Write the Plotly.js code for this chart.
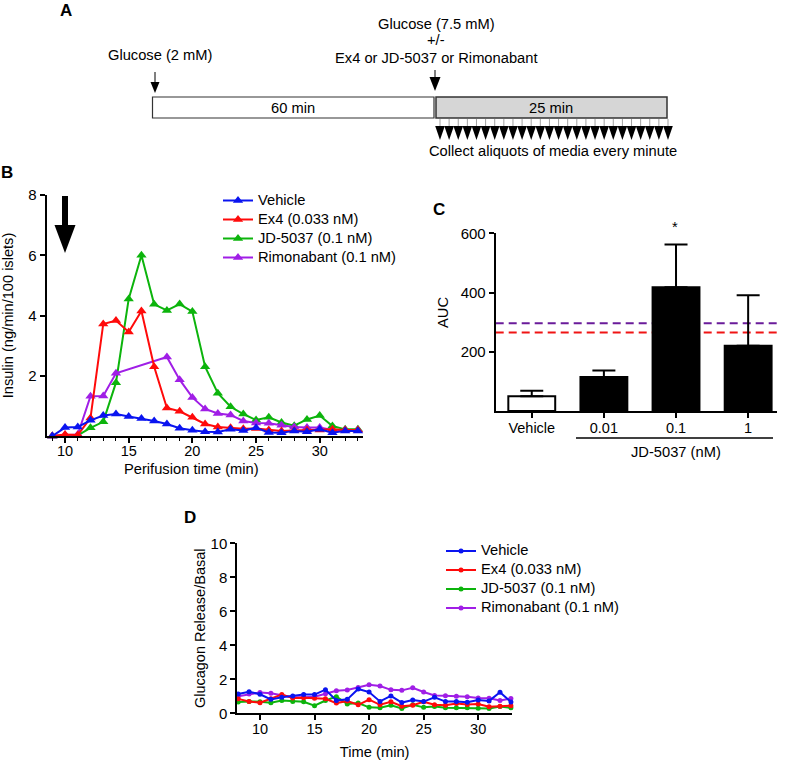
<!DOCTYPE html>
<html><head><meta charset="utf-8">
<script src="https://cdn.plot.ly/plotly-3.0.1.min.js"></script>
<style>html,body{margin:0;padding:0;background:#fff}#c{width:787px;height:761px}</style>
</head><body><div id="c"></div>
<script>
const seriesNames = ['Vehicle','Ex4 (0.033 nM)','JD-5037 (0.1 nM)','Rimonabant (0.1 nM)'];
const colors = {veh:'#0a14f0', ex4:'#ff0a0a', jd:'#0cb40c', rim:'#a01ee6'};

const insulinTime = [9,10,11,12,13,14,15,16,17,18,19,20,21,22,23,24,25,26,27,28,29,30,31,32,33];
const insulinVehicle = [0,.28,.3,.52,.68,.73,.65,.58,.5,.4,.26,.19,.14,.13,.22,.18,.27,.12,.11,.17,.14,.22,.11,.17,.17];
const insulinEx4 = [0,.05,.03,.6,3.72,3.83,3.45,4.15,2.3,.93,.82,.62,.4,.3,.27,.24,.25,.2,.17,.18,.2,.2,.22,.2,.2];
const insulinJD = [0,.02,.02,.27,.47,1.77,4.55,6.0,4.37,4.17,4.38,4.13,2.3,1.42,.97,.73,.53,.62,.45,.34,.55,.68,.33,.22,.22];
const rimTime = [9,10,11,12,13,14,18,19,20,21,22,23,24,25,26,27,28,29,30,31,32,33];
const insulinRim = [0,.03,.05,1.32,1.33,2.08,2.62,1.87,1.28,.9,.75,.7,.5,.43,.42,.36,.3,.28,.28,.2,.2,.2];

const aucCategories = ['Vehicle','0.01','0.1','1'];
const aucValues = [50,115,418,220];
const aucErrors = [18,22,144,171];
const aucFill = ['#ffffff','#000000','#000000','#000000'];
const aucRefRim = 296, aucRefEx4 = 265;

const glucagonTime = [8,9,10,11,12,13,14,15,16,17,18,19,20,21,22,23,24,25,26,27,28,29,30,31,32,33];
const glucagonVehicle = [1.13,1.27,1.12,.82,.95,1.02,1.1,1.1,1.39,.75,.82,1.43,1.25,.7,1.02,.63,.78,.69,.94,.69,.7,.65,.78,.73,1.24,.67];
const glucagonEx4 = [.85,.7,.62,.85,1.1,.9,.92,.88,.85,.6,.72,.5,.8,.5,.68,.42,.47,.68,.5,.48,.58,.52,.55,.38,.42,.45];
const glucagonJD = [.66,.7,.68,.62,.75,.7,.68,.45,.75,.98,.55,.6,.35,.33,.47,.28,.5,.35,.4,.33,.32,.32,.3,.28,.4,.32];
const glucagonRim = [1.0,1.13,1.22,1.18,1.05,.95,.95,.98,1.15,1.33,1.37,1.52,1.68,1.6,1.38,1.35,1.5,1.25,1.05,1.03,1.0,.98,.9,.88,.75,.87];

const W=787,H=761;
const fx=p=>p/W, fy=p=>1-p/H;
const FONT='"Liberation Sans", Arial, sans-serif';
const TXT=14.7;
const legName=i=>`<span style="font-size:${TXT}px">${seriesNames[i]}</span>`;

function line(name,x,y,color,xa,ya,sym,size,leg,rank){
  return {type:'scatter',mode:'lines+markers',name,x,y,xaxis:xa,yaxis:ya,cliponaxis:false,
    line:{color,width:2},marker:{color,size,symbol:sym},legend:leg,legendrank:rank};
}
const traces=[
  line(legName(2),insulinTime,insulinJD,colors.jd,'x','y','triangle-up',9,'legend',3),
  line(legName(3),rimTime,insulinRim,colors.rim,'x','y','triangle-up',9,'legend',4),
  line(legName(1),insulinTime,insulinEx4,colors.ex4,'x','y','triangle-up',9,'legend',2),
  line(legName(0),insulinTime,insulinVehicle,colors.veh,'x','y','triangle-up',9,'legend',1),
  {type:'bar',x:aucCategories,y:aucValues,xaxis:'x2',yaxis:'y2',width:0.65,showlegend:false,cliponaxis:false,
    marker:{color:aucFill,line:{color:'#000',width:2}},
    error_y:{type:'data',array:aucErrors,symmetric:false,arrayminus:[0,0,0,0],color:'#000',thickness:2,width:11.5}},
  line(legName(3),glucagonTime,glucagonRim,colors.rim,'x3','y3','circle',5,'legend2',4),
  line(legName(2),glucagonTime,glucagonJD,colors.jd,'x3','y3','circle',5,'legend2',3),
  line(legName(1),glucagonTime,glucagonEx4,colors.ex4,'x3','y3','circle',5,'legend2',2),
  line(legName(0),glucagonTime,glucagonVehicle,colors.veh,'x3','y3','circle',5,'legend2',1)
];

const axisBase={showgrid:false,zeroline:false,showline:true,linecolor:'#000',linewidth:2,ticks:'outside',
  tickcolor:'#000',tickwidth:2,ticklen:5,color:'#000'};

function txt(t,x,y,size,extra){
  return Object.assign({text:t,xref:'paper',yref:'paper',x:fx(x),y:fy(y),xanchor:'center',yanchor:'middle',
    showarrow:false,font:{family:FONT,size:size,color:'#000'}},extra||{});
}
const annotations=[
  txt('<b>A</b>',66,11,17),txt('<b>B</b>',7,172,17),txt('<b>C</b>',439,209,17),txt('<b>D</b>',190,517,17),
  txt('Glucose (2 mM)',160,55,TXT),
  txt('Glucose (7.5 mM)',436,24,TXT),txt('+/-',436,40,TXT),txt('Ex4 or JD-5037 or Rimonabant',436,58,TXT),
  txt('60 min',293,108,TXT),txt('25 min',551,108,TXT),
  txt('Collect aliquots of media every minute',553,151,TXT),
  txt('*',675,227,TXT),txt('JD-5037 (nM)',676,452,TXT),
  txt('Perifusion time (min)',191.5,469,TXT),
  txt('AUC',443,313,TXT,{textangle:-90})
];

function tri(cx,top,bot,hw){
  return {type:'path',xref:'paper',yref:'paper',path:`M${fx(cx-hw)},${fy(top)} L${fx(cx+hw)},${fy(top)} L${fx(cx)},${fy(bot)} Z`,
    fillcolor:'#000',line:{width:0}};
}
function seg(x0,y0,x1,y1,color,width){
  return {type:'line',xref:'paper',yref:'paper',x0:fx(x0),y0:fy(y0),x1:fx(x1),y1:fy(y1),line:{color,width}};
}
const shapes=[
  {type:'rect',xref:'paper',yref:'paper',x0:fx(152.5),x1:fx(434),y0:fy(97),y1:fy(118),fillcolor:'#fff',line:{color:'#333',width:1.2}},
  {type:'rect',xref:'paper',yref:'paper',x0:fx(436),x1:fx(667),y0:fy(97),y1:fy(118),fillcolor:'#d6d6d6',line:{color:'#333',width:1.5}},
  seg(155,72,155,84,'#000',1), tri(155,82,93,4.5),
  seg(435,70,435,80,'#000',1), tri(435,77,91,5.5),
  seg(576,438,773,438,'#000',1.5),
  {type:'rect',xref:'paper',yref:'paper',x0:fx(62),x1:fx(68),y0:fy(196),y1:fy(226),fillcolor:'#000',line:{width:0}},
  tri(65,225,253,10.5),
  {type:'line',xref:'x2 domain',yref:'y2',x0:0,x1:1,y0:aucRefRim,y1:aucRefRim,layer:'below',line:{color:'#6a1b9a',width:2,dash:'8px,5px'}},
  {type:'line',xref:'x2 domain',yref:'y2',x0:0,x1:1,y0:aucRefEx4,y1:aucRefEx4,layer:'below',line:{color:'#f01414',width:2,dash:'8px,5px'}}
];
for(let i=0;i<26;i++){
  const cx=440+i*9.12;
  shapes.push(seg(cx,119,cx,127,'#777',0.7));
  shapes.push(tri(cx,126,140,4.8));
}

const layout={
  width:W,height:H,margin:{l:0,r:0,t:0,b:0},paper_bgcolor:'#fff',plot_bgcolor:'rgba(0,0,0,0)',
  font:{family:FONT,color:'#000',size:13},
  xaxis:Object.assign({},axisBase,{domain:[fx(46.7),fx(363)],range:[8.56,33.4],anchor:'y',tickvals:[10,15,20,25,30],
    tickfont:{size:14.5},ticklabelstandoff:-4,minor:{dtick:1,ticks:'outside',ticklen:3,tickcolor:'#000',tickwidth:1}}),
  yaxis:Object.assign({},axisBase,{domain:[fy(436),fy(195)],range:[0,8],anchor:'x',tickvals:[2,4,6,8],
    tickfont:{size:15},title:{text:'Insulin (ng/min/100 islets)',font:{size:14.6},standoff:15}}),
  xaxis2:Object.assign({},axisBase,{domain:[fx(495.7),fx(777)],type:'category',range:[-0.5,3.4],anchor:'y2',
    categoryorder:'array',categoryarray:aucCategories,tickfont:{size:14.5},ticklabelstandoff:-2}),
  yaxis2:Object.assign({},axisBase,{domain:[fy(411),fy(233.3)],range:[0,600],anchor:'x2',tickvals:[200,400,600],
    tickfont:{size:15}}),
  xaxis3:Object.assign({},axisBase,{domain:[fx(237.3),fx(512)],range:[7.92,33.1],anchor:'y3',tickvals:[10,15,20,25,30],
    tickfont:{size:14.5},ticklabelstandoff:-4,title:{text:'Time (min)',font:{size:TXT},standoff:11}}),
  yaxis3:Object.assign({},axisBase,{domain:[fy(713.3),fy(543.3)],range:[0,10],anchor:'x3',tickvals:[0,2,4,6,8,10],
    tickfont:{size:15},title:{text:'Glucagon Release/Basal',font:{size:14.5},standoff:2}}),
  legend:{x:fx(218),y:fy(186),xanchor:'left',yanchor:'top',bgcolor:'rgba(0,0,0,0)',font:{size:11},itemwidth:30},
  legend2:{x:fx(441),y:fy(536.5),xanchor:'left',yanchor:'top',bgcolor:'rgba(0,0,0,0)',font:{size:11},itemwidth:30},
  annotations,shapes,bargap:0
};
Plotly.newPlot('c',traces,layout,{staticPlot:true,displayModeBar:false});
</script></body></html>
